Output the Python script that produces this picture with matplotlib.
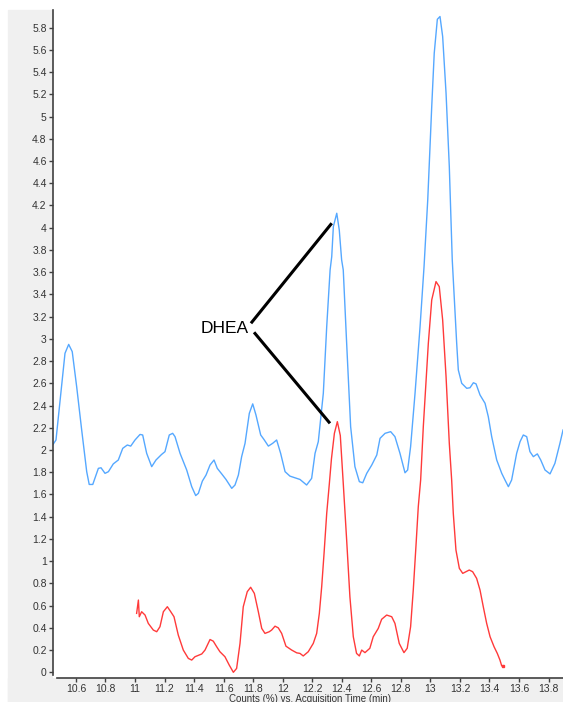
"""
Chromatogram overlay (DHEA), MassHunter-style
"""

import matplotlib
matplotlib.use("Agg")
import matplotlib.pyplot as plt
from matplotlib.patches import Rectangle

# Blue trace (time in min, counts in %)
blue_t = [10.445, 10.465, 10.526, 10.551, 10.575, 10.605, 10.639, 10.673, 10.69, 10.714,
          10.752, 10.77, 10.797, 10.82, 10.853, 10.887, 10.917, 10.948, 10.971, 11.0,
          11.034, 11.052, 11.079, 11.113, 11.142, 11.18, 11.203, 11.232, 11.255, 11.271,
          11.305, 11.35, 11.384, 11.411, 11.429, 11.456, 11.481, 11.508, 11.535, 11.557,
          11.587, 11.616, 11.655, 11.677, 11.7, 11.722, 11.745, 11.774, 11.797, 11.819,
          11.851, 11.873, 11.903, 11.932, 11.959, 11.986, 12.016, 12.049, 12.083, 12.117,
          12.162, 12.196, 12.219, 12.241, 12.275, 12.298, 12.321, 12.332, 12.343, 12.366,
          12.383, 12.399, 12.41, 12.433, 12.46, 12.489, 12.519, 12.542, 12.569, 12.603,
          12.637, 12.659, 12.693, 12.731, 12.76, 12.794, 12.828, 12.846, 12.866, 12.896,
          12.93, 12.957, 12.982, 13.009, 13.026, 13.047, 13.065, 13.083, 13.106, 13.128,
          13.148, 13.16, 13.178, 13.189, 13.212, 13.246, 13.268, 13.291, 13.309, 13.336,
          13.37, 13.392, 13.415, 13.449, 13.483, 13.505, 13.528, 13.55, 13.584, 13.607,
          13.629, 13.652, 13.674, 13.697, 13.724, 13.747, 13.776, 13.81, 13.843, 13.877,
          13.898]
blue_y = [2.05, 2.09, 2.87, 2.95, 2.885, 2.57, 2.18, 1.805, 1.69, 1.69,
          1.835, 1.84, 1.79, 1.805, 1.875, 1.91, 2.015, 2.045, 2.035, 2.09,
          2.14, 2.135, 1.97, 1.85, 1.91, 1.96, 1.985, 2.135, 2.15, 2.12,
          1.97, 1.82, 1.67, 1.59, 1.61, 1.72, 1.775, 1.865, 1.91, 1.835,
          1.785, 1.735, 1.655, 1.685, 1.775, 1.94, 2.06, 2.33, 2.415, 2.315,
          2.135, 2.095, 2.035, 2.06, 2.09, 1.97, 1.805, 1.765, 1.75, 1.735,
          1.685, 1.745, 1.97, 2.075, 2.51, 3.11, 3.62, 3.74, 4.01, 4.13,
          3.98, 3.71, 3.62, 2.96, 2.21, 1.85, 1.715, 1.705, 1.79, 1.865,
          1.955, 2.105, 2.15, 2.165, 2.12, 1.97, 1.795, 1.82, 2.03, 2.51,
          3.11, 3.65, 4.25, 5.09, 5.57, 5.875, 5.9, 5.72, 5.21, 4.55,
          3.71, 3.41, 2.96, 2.72, 2.6, 2.555, 2.56, 2.605, 2.595, 2.495,
          2.42, 2.3, 2.12, 1.91, 1.79, 1.73, 1.67, 1.73, 1.97, 2.075,
          2.135, 2.12, 1.985, 1.94, 1.965, 1.91, 1.82, 1.785, 1.88, 2.06,
          2.18]

# Red trace
red_t = [11.011, 11.023, 11.029, 11.045, 11.068, 11.09, 11.124, 11.147, 11.169, 11.192,
         11.219, 11.242, 11.264, 11.293, 11.327, 11.361, 11.384, 11.406, 11.452, 11.474,
         11.508, 11.53, 11.553, 11.575, 11.609, 11.638, 11.666, 11.688, 11.711, 11.733,
         11.76, 11.783, 11.808, 11.835, 11.858, 11.88, 11.909, 11.925, 11.948, 11.97,
         11.993, 12.022, 12.061, 12.095, 12.117, 12.139, 12.173, 12.207, 12.23, 12.248,
         12.264, 12.28, 12.298, 12.316, 12.33, 12.35, 12.37, 12.39, 12.41, 12.433,
         12.455, 12.478, 12.5, 12.519, 12.535, 12.557, 12.59, 12.613, 12.647, 12.67,
         12.704, 12.738, 12.76, 12.789, 12.821, 12.843, 12.866, 12.884, 12.902, 12.918,
         12.934, 12.952, 12.986, 13.009, 13.038, 13.06, 13.083, 13.106, 13.128, 13.144,
         13.155, 13.173, 13.196, 13.219, 13.241, 13.263, 13.286, 13.313, 13.336, 13.358,
         13.381, 13.404, 13.431, 13.453, 13.471, 13.483, 13.49]
red_y = [0.53, 0.65, 0.50, 0.545, 0.515, 0.44, 0.38, 0.365, 0.41, 0.545,
         0.59, 0.545, 0.50, 0.335, 0.20, 0.125, 0.11, 0.14, 0.165, 0.20,
         0.295, 0.28, 0.23, 0.185, 0.14, 0.065, 0.0, 0.035, 0.26, 0.59,
         0.725, 0.765, 0.71, 0.545, 0.395, 0.35, 0.365, 0.38, 0.415, 0.40,
         0.35, 0.235, 0.20, 0.175, 0.17, 0.147, 0.185, 0.26, 0.35, 0.53,
         0.77, 1.07, 1.43, 1.70, 1.92, 2.15, 2.255, 2.13, 1.70, 1.19,
         0.68, 0.32, 0.17, 0.147, 0.20, 0.177, 0.216, 0.32, 0.395, 0.477,
         0.515, 0.50, 0.44, 0.26, 0.177, 0.216, 0.41, 0.74, 1.13, 1.49,
         1.73, 2.21, 2.96, 3.35, 3.515, 3.47, 3.17, 2.66, 2.06, 1.73,
         1.43, 1.10, 0.935, 0.89, 0.905, 0.92, 0.905, 0.845, 0.74, 0.59,
         0.44, 0.32, 0.23, 0.17, 0.11, 0.057, 0.06]

xticks = [10.6, 10.8, 11, 11.2, 11.4, 11.6, 11.8, 12, 12.2, 12.4, 12.6, 12.8, 13, 13.2, 13.4, 13.6, 13.8]
yticks = [round(0.2 * i, 1) for i in range(30)]

plt.rcParams['font.family'] = ['Liberation Sans', 'DejaVu Sans']

W, H = 563, 702
fig = plt.figure(figsize=(W / 100, H / 100), dpi=100, facecolor='white')

# gray frame around the plot area (left strip + bottom strip), behind the axes
gray = '#f0f0f0'
fig.patches.append(Rectangle((8 / W, 0), (53 - 8) / W, (H - 10) / H,
                             transform=fig.transFigure, color=gray, zorder=-5))
fig.patches.append(Rectangle((8 / W, 0), 1 - 8 / W, (H - 678) / H,
                             transform=fig.transFigure, color=gray, zorder=-5))

ax = fig.add_axes([53 / W, (H - 678) / H, 1 - 53 / W, (678 - 10) / H])
ax.set_facecolor('white')
ax.set_xlim(10.4448, 13.8978)
ax.set_ylim(-0.0513, 5.9586)

ax.plot(blue_t, blue_y, color='#55a8ff', lw=1.0)
ax.plot(red_t, red_y, color='#ff3a3a', lw=1.0)
ax.plot([red_t[-1]], [red_y[-1]], 's', color='#ff3a3a', ms=2)

# DHEA annotation
ax.text(11.609, 3.095, 'DHEA', fontsize=12.5, ha='center', va='center', color='black')
ax.plot([11.785, 12.332], [3.14, 4.04], color='black', lw=2.2, solid_capstyle='butt')
ax.plot([11.806, 12.320], [3.059, 2.24], color='black', lw=2.2, solid_capstyle='butt')

for s in ['top', 'right']:
    ax.spines[s].set_visible(False)
ax.spines['left'].set_color('#404040')
ax.spines['bottom'].set_color('#404040')
ax.spines['left'].set_linewidth(1.2)
ax.spines['bottom'].set_linewidth(1.2)
ax.spines['left'].set_bounds(-0.025, 5.9586)
ax.spines['bottom'].set_bounds(10.47, 13.8978)

ax.set_xticks(xticks)
ax.set_xticklabels(['%g' % v for v in xticks])
ax.set_yticks(yticks)
ax.set_yticklabels(['%g' % v for v in yticks])
ax.tick_params(axis='both', direction='out', length=3, width=1, color='#404040',
               labelsize=7.5, labelcolor='#333333', pad=1.5)

fig.text(310 / W, (H - 699) / H, 'Counts (%) vs. Acquisition Time (min)', fontsize=7,
         color='#333333', ha='center', va='center')

fig.savefig('out.png', dpi=100, facecolor='white')
